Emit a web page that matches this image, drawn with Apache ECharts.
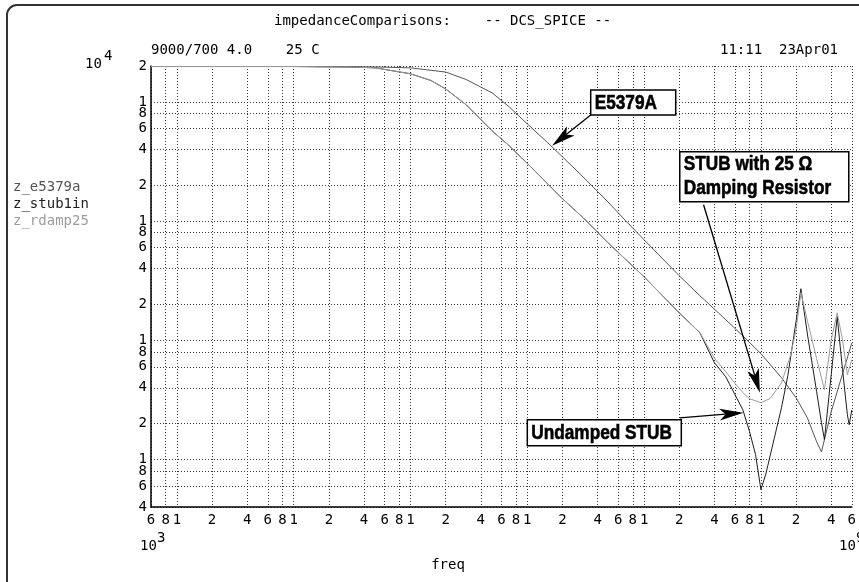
<!DOCTYPE html>
<html>
<head>
<meta charset="utf-8">
<title>impedanceComparisons</title>
<script src="https://cdn.jsdelivr.net/npm/echarts@6/dist/echarts.min.js"></script>
<style>
html, body { margin: 0; padding: 0; background: #fff; }
#container { width: 859px; height: 582px; }
</style>
</head>
<body>
<div id="container"></div>
<script>
// log-log impedance plot

// x axis: frequency (Hz), ticks at 1,2,4,6,8 per decade
var xTicks = [6e3, 8e3,
    1e4, 2e4, 4e4, 6e4, 8e4,
    1e5, 2e5, 4e5, 6e5, 8e5,
    1e6, 2e6, 4e6, 6e6, 8e6,
    1e7, 2e7, 4e7, 6e7, 8e7,
    1e8, 2e8, 4e8, 6e8, 8e8,
    1e9, 2e9, 4e9, 6e9];
var xTickLabels = ['6', '8',
    '1', '2', '4', '6', '8',
    '1', '2', '4', '6', '8',
    '1', '2', '4', '6', '8',
    '1', '2', '4', '6', '8',
    '1', '2', '4', '6', '8',
    '1', '2', '4', '6'];

// y axis: impedance (ohm)
var yTicks = [4, 6, 8, 10, 20, 40, 60, 80, 100, 200, 400, 600, 800,
    1e3, 2e3, 4e3, 6e3, 8e3, 1e4, 2e4];
var yTickLabels = ['4', '6', '8', '1', '2', '4', '6', '8', '1', '2', '4', '6', '8',
    '1', '2', '4', '6', '8', '1', '2'];

// z_e5379a
var freqE5379a = [6e3, 1e5, 5e5, 1e6, 2e6, 3e6, 5e6, 7e6, 1e7, 1.5e7, 2e7, 3e7, 5e7, 7e7,
    1e8, 2e8, 3e8, 5e8, 7e8, 1e9, 1.5e9, 2e9, 2.5e9, 3e9, 3.3e9, 4e9, 5e9, 6e9];
var zE5379a = [19800, 19800, 19650, 19300, 17800, 15400, 11900, 9080, 6540, 4530, 3460, 2350, 1420, 1000,
    697, 348, 237, 149, 109, 77.3, 48.6, 33.0, 22.4, 14.1, 11.6, 25.2, 52.5, 95];

// z_stub1in
var freqStub1in = [6e3, 1e5, 3e5, 5e5, 1e6, 1.5e6, 2e6, 3e6, 5e6, 7e6, 1e7, 2e7, 3e7, 5e7, 7e7,
    1e8, 2e8, 3e8, 4e8, 5e8, 6e8, 7e8, 8e8, 9e8, 1e9, 1.1e9, 1.3e9, 1.5e9, 1.7e9, 2e9, 2.2e9,
    2.5e9, 3e9, 3.3e9, 3.5e9, 4e9, 4.5e9, 5e9, 5.5e9, 5.7e9, 6e9];
var zStub1in = [19800, 19800, 19650, 19300, 17200, 15100, 12850, 9440, 5710, 4280, 3050, 1540, 1070, 646, 474,
    341, 170, 116, 64.9, 49.5, 35, 26.2, 17.1, 11.0, 5.6, 7.5, 15.0, 27.2, 50.5, 144, 271,
    113, 37.1, 20.4, 14.7, 51.5, 158, 56.8, 23.8, 19.6, 26];

// z_rdamp25
var freqRdamp25 = [6e3, 1e5, 3e5, 5e5, 1e6, 1.5e6, 2e6, 3e6, 5e6, 7e6, 1e7, 2e7, 3e7, 5e7, 7e7,
    1e8, 2e8, 3e8, 4e8, 5e8, 6e8, 7e8, 8e8, 1e9, 1.2e9, 1.5e9, 1.8e9, 2e9, 2.2e9,
    2.5e9, 3e9, 3.5e9, 4e9, 4.5e9, 5e9, 5.5e9, 6e9];
var zRdamp25 = [19800, 19800, 19650, 19300, 17200, 15100, 12850, 9440, 5710, 4280, 3050, 1540, 1070, 646, 474,
    341, 170, 116, 70.8, 54.6, 43.6, 36.4, 32.4, 30.0, 32.5, 44, 75.7, 123, 251,
    146, 70.2, 38.5, 101, 170, 101, 51.5, 68.7];

var seriesNames = ['z_e5379a', 'z_stub1in', 'z_rdamp25'];
var seriesColors = ['#555555', '#1e1e1e', '#9c9c9c'];

// callouts: box corner and arrow ends in data coordinates
var callouts = [
    {lines: ['E5379A'], corner: [3.49e7, 1.26e4], w: 85, h: 25,
        from: [3.49e7, 7.78e3], to: [1.63e7, 4.28e3]},
    {lines: ['STUB with 25 \u03A9', 'Damping Resistor'], corner: [2.02e8, 3.81e3], w: 169, h: 50,
        from: [3.23e8, 1.37e3], to: [9.81e8, 36.4]},
    {lines: ['Undamped STUB'], corner: [1.0e7, 21.6], w: 154, h: 26,
        from: [2.02e8, 22.4], to: [7.1e8, 24.7]}
];

var MONO = "'DejaVu Sans Mono', 'Liberation Mono', monospace";
// condensed bold look: Liberation Sans bold squeezed horizontally
var BOLD = "bold 21px 'Liberation Sans', Arial, sans-serif";
var SQUEEZE = 0.82;

function pairs(xs, ys) {
    var out = [];
    for (var i = 0; i < xs.length; i++) out.push([xs[i], ys[i]]);
    return out;
}

function tickLabel(ticks, labels) {
    return function (v) {
        for (var i = 0; i < ticks.length; i++) {
            if (Math.abs(Math.log10(v) - Math.log10(ticks[i])) < 1e-4) return labels[i];
        }
        return '';
    };
}

function txt(str, x, y, color, font, align, valign) {
    return {
        type: 'text', x: x, y: y, silent: true,
        style: {
            text: str, fill: color || '#000', font: font || ('14px ' + MONO),
            align: align || 'left', verticalAlign: valign || 'middle',
            textAlign: align || 'left', textVerticalAlign: valign || 'middle'
        }
    };
}

var dom = document.getElementById('container');
var myChart = echarts.init(dom, null, {renderer: 'canvas'});

var gridLine = {show: true, lineStyle: {color: '#3a3a3a', width: 1, type: [1, 2]}};

var option = {
    animation: false,
    backgroundColor: '#fff',
    grid: {left: 151, top: 66, width: 708, height: 441},
    xAxis: {
        type: 'log', logBase: 10, min: 6e3, max: 6e9,
        axisLine: {show: true, onZero: false, lineStyle: {color: '#000', width: 1.5}},
        axisTick: {show: false, customValues: xTicks},
        axisLabel: {
            customValues: xTicks, formatter: tickLabel(xTicks, xTickLabels),
            color: '#000', fontFamily: MONO, fontSize: 14, margin: 6
        },
        splitLine: gridLine
    },
    yAxis: {
        type: 'log', logBase: 10, min: 4, max: 2e4,
        axisLine: {show: true, onZero: false, lineStyle: {color: '#000', width: 1.5}},
        axisTick: {show: false, customValues: yTicks},
        axisLabel: {
            customValues: yTicks, formatter: tickLabel(yTicks, yTickLabels),
            color: '#000', fontFamily: MONO, fontSize: 14, margin: 4
        },
        splitLine: gridLine
    },
    series: [
        {name: seriesNames[0], type: 'line', data: pairs(freqE5379a, zE5379a), showSymbol: false,
            lineStyle: {color: seriesColors[0], width: 1}, z: 3},
        {name: seriesNames[1], type: 'line', data: pairs(freqStub1in, zStub1in), showSymbol: false,
            lineStyle: {color: seriesColors[1], width: 1}, z: 4},
        {name: seriesNames[2], type: 'line', data: pairs(freqRdamp25, zRdamp25), showSymbol: false,
            lineStyle: {color: seriesColors[2], width: 1}, z: 5}
    ]
};
myChart.setOption(option);

// static texts + frame
var g = [];
g.push({type: 'rect', silent: true, shape: {x: 7, y: 5, width: 900, height: 640, r: 10},
    style: {fill: 'none', stroke: '#333', lineWidth: 2}});
g.push(txt('impedanceComparisons:    -- DCS_SPICE --', 274, 21));
g.push(txt('9000/700 4.0    25 C', 151, 50));
g.push(txt('11:11  23Apr01', 720, 50));
g.push(txt('10', 85, 64));
g.push(txt('4', 104, 56));
g.push(txt('10', 140, 546));
g.push(txt('3', 157, 538));
g.push(txt('10', 839, 546));
g.push(txt('9', 856, 538));
g.push(txt('freq', 448, 565, '#000', null, 'center'));
for (var i = 0; i < seriesNames.length; i++) {
    g.push(txt(seriesNames[i], 13, 187 + i * 17, seriesColors[i]));
}

// callout boxes and arrows, placed through the axes
function px(p) { return myChart.convertToPixel({gridIndex: 0}, p); }
callouts.forEach(function (c) {
    var p = px(c.corner);
    g.push({type: 'rect', z: 50, shape: {x: p[0], y: p[1], width: c.w, height: c.h},
        style: {fill: '#fff', stroke: '#000', lineWidth: 1.5}});
    for (var k = 0; k < c.lines.length; k++) {
        var ty = c.lines.length === 1 ? p[1] + c.h / 2 + 1 : p[1] + 12 + k * 24;
        var t = txt(c.lines[k], p[0] + 4, ty, '#000', BOLD);
        t.style.stroke = '#000';
        t.style.lineWidth = 0.6;
        t.z = 51;
        t.scaleX = SQUEEZE;
        g.push(t);
    }
    var s = px(c.from), e = px(c.to);
    var dx = e[0] - s[0], dy = e[1] - s[1], len = Math.sqrt(dx * dx + dy * dy);
    var ux = dx / len, uy = dy / len, nx = -uy, ny = ux;
    var L = 24, W = 6, notch = 6;
    var bx = e[0] - ux * L, by = e[1] - uy * L;
    var mx = e[0] - ux * (L - notch), my = e[1] - uy * (L - notch);
    g.push({type: 'line', z: 50, silent: true, shape: {x1: s[0], y1: s[1], x2: mx, y2: my},
        style: {stroke: '#000', lineWidth: 1.3}});
    g.push({type: 'polygon', z: 50, silent: true,
        shape: {points: [[e[0], e[1]], [bx + nx * W, by + ny * W], [mx, my], [bx - nx * W, by - ny * W]]},
        style: {fill: '#000'}});
});

myChart.setOption({graphic: {elements: g}});
</script>
</body>
</html>
